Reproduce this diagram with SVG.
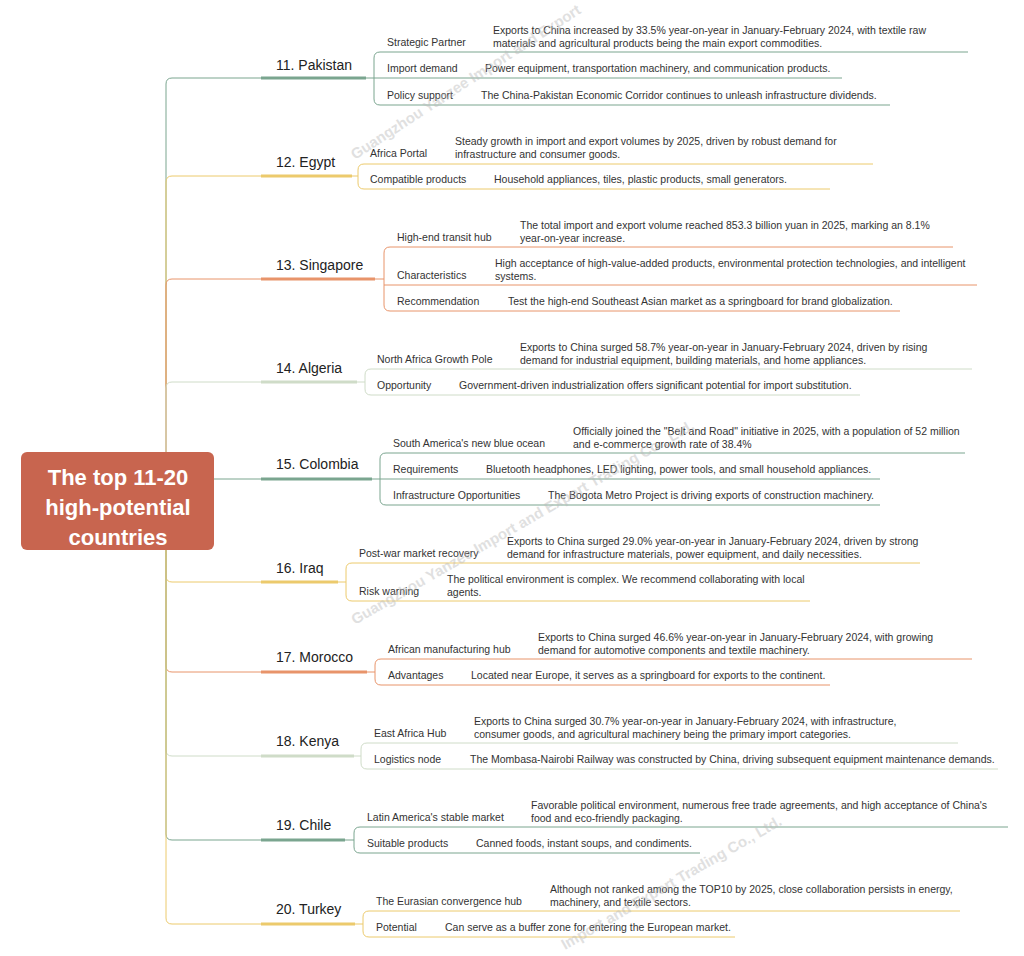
<svg xmlns="http://www.w3.org/2000/svg" width="1024" height="956" viewBox="0 0 1024 956">
<style>
text{font-family:"Liberation Sans",Arial,sans-serif;fill:#333}
.c{font-size:14px;fill:#222}
.l{font-size:10.5px}
.d{font-size:10.5px}
.root{font-size:22px;font-weight:bold;fill:#fff;text-anchor:middle}
.wm{font-size:15px;font-weight:bold;fill:#bbb;opacity:0.45}
.g{stroke:#7aa58f}.y{stroke:#ecca6c}.o{stroke:#e8946a}.p{stroke:#cfdcc8}
path{fill:none}
.th{stroke-width:3}
.tn{stroke-width:1}
</style>
<rect width="1024" height="956" fill="#fff"/>
<g id="connectors">
<path class="g tn" d="M166 452V84Q166 78 172 78H261"/>
<path class="y tn" d="M166 452V182Q166 176 172 176H261"/>
<path class="o tn" d="M166 452V285Q166 279 172 279H261"/>
<path class="p tn" d="M166 452V388Q166 382 172 382H261"/>
<path class="g tn" d="M214 479H261"/>
<path class="y tn" d="M166 550V576Q166 582 172 582H261"/>
<path class="o tn" d="M166 550V666Q166 672 172 672H261"/>
<path class="p tn" d="M166 550V750Q166 756 172 756H261"/>
<path class="g tn" d="M166 550V834Q166 840 172 840H261"/>
<path class="y tn" d="M166 550V918Q166 924 172 924H261"/>
</g>
<g id="root"><rect x="21" y="452" width="193" height="98" rx="6" fill="#c8654f"/>
<text class="root" x="118" y="485">The top 11-20</text><text class="root" x="118" y="515">high-potential</text><text class="root" x="118" y="545">countries</text></g>

<g id="pakistan"><text class="c" x="276" y="70">11. Pakistan</text><path class="g th" d="M261 78H366"/><path class="g tn" d="M366 78H374"/>
<path class="g tn" d="M968 52H380Q374 52 374 58V99Q374 105 380 105H890M374 78H842"/>
<text class="l" x="387" y="46">Strategic Partner</text><text class="d" x="493" y="34">Exports to China increased by 33.5% year-on-year in January-February 2024, with textile raw</text><text class="d" x="493" y="47">materials and agricultural products being the main export commodities.</text>
<text class="l" x="387" y="72">Import demand</text><text class="d" x="485" y="72">Power equipment, transportation machinery, and communication products.</text>
<text class="l" x="387" y="99">Policy support</text><text class="d" x="481" y="99">The China-Pakistan Economic Corridor continues to unleash infrastructure dividends.</text></g>

<g id="egypt"><text class="c" x="276" y="167">12. Egypt</text><path class="y th" d="M261 176H352"/><path class="y tn" d="M352 176H358"/>
<path class="y tn" d="M873 164H364Q358 164 358 170V183Q358 189 364 189H830"/>
<text class="l" x="370" y="157">Africa Portal</text><text class="d" x="455" y="145">Steady growth in import and export volumes by 2025, driven by robust demand for</text><text class="d" x="455" y="158">infrastructure and consumer goods.</text>
<text class="l" x="370" y="183">Compatible products</text><text class="d" x="494" y="183">Household appliances, tiles, plastic products, small generators.</text></g>

<g id="singapore"><text class="c" x="276" y="270">13. Singapore</text><path class="o th" d="M261 279H375"/><path class="o tn" d="M375 279H384"/>
<path class="o tn" d="M953 247H390Q384 247 384 253V305Q384 311 390 311H900M384 285H977"/>
<text class="l" x="397" y="241">High-end transit hub</text><text class="d" x="520" y="229">The total import and export volume reached 853.3 billion yuan in 2025, marking an 8.1%</text><text class="d" x="520" y="242">year-on-year increase.</text>
<text class="l" x="397" y="279">Characteristics</text><text class="d" x="495" y="267">High acceptance of high-value-added products, environmental protection technologies, and intelligent</text><text class="d" x="495" y="280">systems.</text>
<text class="l" x="397" y="305">Recommendation</text><text class="d" x="508" y="305">Test the high-end Southeast Asian market as a springboard for brand globalization.</text></g>

<g id="algeria"><text class="c" x="276" y="373">14. Algeria</text><path class="p th" d="M261 382H357"/><path class="p tn" d="M357 382H365"/>
<path class="p tn" d="M972 369H371Q365 369 365 375V389Q365 395 371 395H860"/>
<text class="l" x="377" y="363">North Africa Growth Pole</text><text class="d" x="520" y="351">Exports to China surged 58.7% year-on-year in January-February 2024, driven by rising</text><text class="d" x="520" y="364">demand for industrial equipment, building materials, and home appliances.</text>
<text class="l" x="377" y="389">Opportunity</text><text class="d" x="459" y="389">Government-driven industrialization offers significant potential for import substitution.</text></g>

<g id="colombia"><text class="c" x="276" y="469">15. Colombia</text><path class="g th" d="M261 479H372"/><path class="g tn" d="M372 479H380"/>
<path class="g tn" d="M965 453H386Q380 453 380 459V499Q380 505 386 505H880M380 479H880"/>
<text class="l" x="393" y="447">South America's new blue ocean</text><text class="d" x="573" y="435">Officially joined the "Belt and Road" initiative in 2025, with a population of 52 million</text><text class="d" x="573" y="448">and e-commerce growth rate of 38.4%</text>
<text class="l" x="393" y="473">Requirements</text><text class="d" x="486" y="473">Bluetooth headphones, LED lighting, power tools, and small household appliances.</text>
<text class="l" x="393" y="499">Infrastructure Opportunities</text><text class="d" x="548" y="499">The Bogota Metro Project is driving exports of construction machinery.</text></g>

<g id="iraq"><text class="c" x="276" y="573">16. Iraq</text><path class="y th" d="M261 582H338"/><path class="y tn" d="M338 582H346"/>
<path class="y tn" d="M920 563H352Q346 563 346 569V595Q346 601 352 601H810"/>
<text class="l" x="359" y="557">Post-war market recovery</text><text class="d" x="507" y="545">Exports to China surged 29.0% year-on-year in January-February 2024, driven by strong</text><text class="d" x="507" y="558">demand for infrastructure materials, power equipment, and daily necessities.</text>
<text class="l" x="359" y="595">Risk warning</text><text class="d" x="447" y="583">The political environment is complex. We recommend collaborating with local</text><text class="d" x="447" y="596">agents.</text></g>

<g id="morocco"><text class="c" x="276" y="662">17. Morocco</text><path class="o th" d="M261 672H367"/><path class="o tn" d="M367 672H375"/>
<path class="o tn" d="M972 659H381Q375 659 375 665V679Q375 685 381 685H830"/>
<text class="l" x="388" y="653">African manufacturing hub</text><text class="d" x="538" y="641">Exports to China surged 46.6% year-on-year in January-February 2024, with growing</text><text class="d" x="538" y="654">demand for automotive components and textile machinery.</text>
<text class="l" x="388" y="679">Advantages</text><text class="d" x="471" y="679">Located near Europe, it serves as a springboard for exports to the continent.</text></g>

<g id="kenya"><text class="c" x="276" y="746">18. Kenya</text><path class="p th" d="M261 756H354"/><path class="p tn" d="M354 756H361"/>
<path class="p tn" d="M958 743H367Q361 743 361 749V763Q361 769 367 769H998"/>
<text class="l" x="374" y="737">East Africa Hub</text><text class="d" x="474" y="725">Exports to China surged 30.7% year-on-year in January-February 2024, with infrastructure,</text><text class="d" x="474" y="738">consumer goods, and agricultural machinery being the primary import categories.</text>
<text class="l" x="374" y="763">Logistics node</text><text class="d" x="470" y="763">The Mombasa-Nairobi Railway was constructed by China, driving subsequent equipment maintenance demands.</text></g>

<g id="chile"><text class="c" x="276" y="830">19. Chile</text><path class="g th" d="M261 840H345"/><path class="g tn" d="M345 840H354"/>
<path class="g tn" d="M1008 827H360Q354 827 354 833V847Q354 853 360 853H700"/>
<text class="l" x="367" y="821">Latin America's stable market</text><text class="d" x="531" y="809">Favorable political environment, numerous free trade agreements, and high acceptance of China's</text><text class="d" x="531" y="822">food and eco-friendly packaging.</text>
<text class="l" x="367" y="847">Suitable products</text><text class="d" x="476" y="847">Canned foods, instant soups, and condiments.</text></g>

<g id="turkey"><text class="c" x="276" y="914">20. Turkey</text><path class="y th" d="M261 924H355"/><path class="y tn" d="M355 924H363"/>
<path class="y tn" d="M960 911H369Q363 911 363 917V931Q363 937 369 937H735"/>
<text class="l" x="376" y="905">The Eurasian convergence hub</text><text class="d" x="550" y="893">Although not ranked among the TOP10 by 2025, close collaboration persists in energy,</text><text class="d" x="550" y="906">machinery, and textile sectors.</text>
<text class="l" x="376" y="931">Potential</text><text class="d" x="445" y="931">Can serve as a buffer zone for entering the European market.</text></g>

<g id="watermarks">
<text class="wm" transform="translate(355,160) rotate(-33)">Guangzhou Yanzee Import and Export</text>
<text class="wm" transform="translate(355,625) rotate(-30)">Guangzhou Yanzee Import and Export Trading Co., Ltd.</text>
<text class="wm" transform="translate(565,950) rotate(-30)">Import and Export Trading Co., Ltd.</text>
</g>
</svg>
